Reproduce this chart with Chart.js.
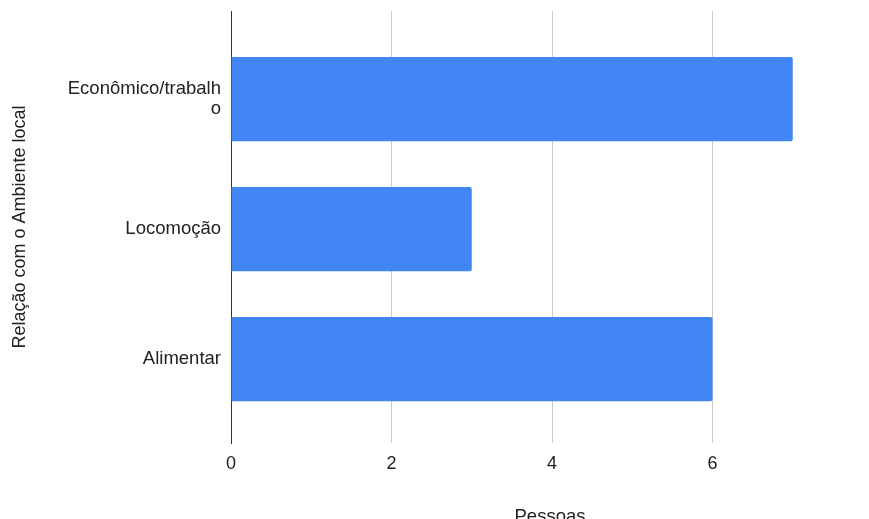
<!DOCTYPE html>
<html>
<head>
<meta charset="utf-8">
<script src="https://cdn.jsdelivr.net/npm/chart.js@4"></script>
<style>
  html, body { margin: 0; padding: 0; background: #fff; }
  #box { width: 869px; height: 519px; position: relative; }
</style>
</head>
<body>
<div id="box"><canvas id="relacaoChart"></canvas></div>
<script>
// Dados
const categories = [['Econômico/trabalh', 'o'], 'Locomoção', 'Alimentar'];
const pessoas = [7, 3, 6];
const xTicks = [0, 2, 4, 6];

const fontFamily = '"Liberation Sans", Arial, sans-serif';

const ctx = document.getElementById('relacaoChart').getContext('2d');
const relacaoChart = new Chart(ctx, {
    type: 'bar',
    data: {
        datasets: [{
            label: 'Pessoas',
            data: pessoas.map((v, i) => ({ x: v, y: i })),
            backgroundColor: '#4285f4',
            borderRadius: 2,
            borderSkipped: 'start',
            categoryPercentage: 0.8,
            barPercentage: 0.81
        }]
    },
    options: {
        indexAxis: 'y',
        responsive: true,
        maintainAspectRatio: false,
        animation: false,
        layout: {
            padding: { top: 11, right: 0, bottom: 0, left: 0 }
        },
        scales: {
            x: {
                type: 'linear',
                min: 0,
                max: 7.95,
                afterBuildTicks: s => { s.ticks = xTicks.map(v => ({ value: v })); },
                afterFit: s => { s.height = 76; },
                ticks: {
                    color: '#222',
                    padding: 10,
                    font: { family: fontFamily, size: 18 }
                },
                grid: {
                    color: '#cccccc',
                    drawTicks: false
                },
                border: { display: false },
                title: {
                    display: true,
                    text: 'Pessoas',
                    color: '#222',
                    padding: { top: 0, bottom: -9 },
                    font: { family: fontFamily, size: 18.5 }
                }
            },
            y: {
                type: 'linear',
                reverse: true,
                offset: false,
                min: -0.677,
                max: 2.646,
                afterBuildTicks: s => { s.ticks = categories.map((c, i) => ({ value: i })); },
                afterFit: s => {
                    s.width = 231;
                    s.paddingTop = 0;
                    s.paddingBottom = 0;
                },
                ticks: {
                    color: '#222',
                    padding: 10,
                    font: { family: fontFamily, size: 18.5, lineHeight: 1.1 },
                    callback: v => categories[v]
                },
                grid: { display: false, drawTicks: false },
                border: { display: true, color: '#333', width: 1 },
                title: {
                    display: true,
                    text: 'Relação com o Ambiente local',
                    color: '#222',
                    padding: { top: 9, bottom: 0 },
                    font: { family: fontFamily, size: 18 }
                }
            }
        },
        plugins: {
            legend: { display: false },
            tooltip: { enabled: false }
        }
    }
});
</script>
</body>
</html>
